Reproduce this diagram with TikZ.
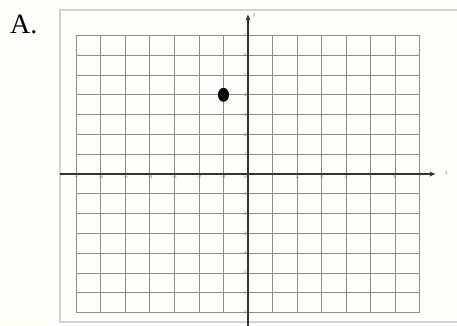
\documentclass[tikz,border=0pt]{standalone}
\usepackage{fontspec}
\setmainfont{Liberation Serif}
\usepackage{tikz}
\usetikzlibrary{arrows.meta,shapes.geometric}
\tikzset{grid line/.style={draw=black!45,line width=1pt},
         axis line/.style={draw=black!80,line width=1.3pt,-{Stealth[length=6pt,width=5pt]}},
         tick label/.style={font=\fontsize{5}{6}\selectfont,text=black!55,inner sep=1.2pt},
         axis label/.style={font=\fontsize{5.5}{6}\selectfont,text=black!55,inner sep=1pt},
         point/.style={ellipse,fill=black,minimum width=11pt,minimum height=14pt,inner sep=0pt},
            }

\begin{document}
\begin{tikzpicture}[x=24.5pt,y=19.8pt]
	\useasboundingbox (-248pt,-151pt) rectangle (209pt,174pt);
	\fill[white!98!yellow] (-248pt,-151pt) rectangle (209pt,174pt);
	% frame
	\draw[gray!35,line width=1.8pt] (-188pt,-148pt) rectangle (215pt,164pt);
	\node[font=\fontsize{28}{30}\selectfont,anchor=base west,inner sep=0pt] (title) at (-238pt,141pt) {A.};
	% grid
	\foreach \i in {-7,...,7}{
		\draw[grid line] (\i,-7) -- (\i,7);
		\draw[grid line] (-7,\i) -- (7,\i);
	}
	% axes
	\coordinate (xstart) at (-7.67,0);
	\coordinate (xend) at (7.65,0);
	\coordinate (ystart) at (0,-7.7);
	\coordinate (yend) at (0,8.05);
	\draw[axis line] (xstart) -- (xend);
	\draw[axis line] (ystart) -- (yend);
	\node[axis label] (xlab) at (8.1,0.05) {x};
	\node[axis label] (ylab) at (0.25,8.0) {y};
	% tick labels
	\foreach \i in {-7,...,-1,1,2,...,7}{
		\node[tick label,below] (xt\i) at (\i,0) {\i};
		\node[tick label,left] (yt\i) at (0,\i) {\i};
	}
	\node[tick label,below left] (orig) at (0,0) {0};
	% point
	\node[point] (P) at (-1,4) {};
\end{tikzpicture}
\end{document}
